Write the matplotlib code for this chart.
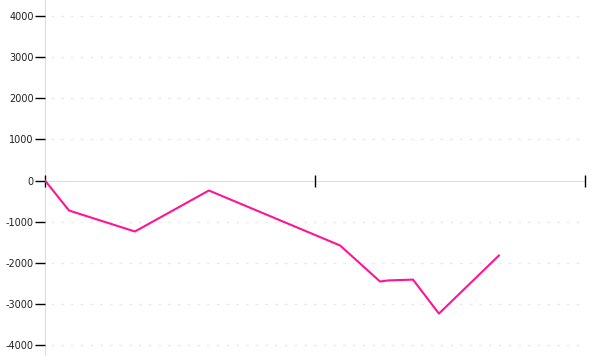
import matplotlib
matplotlib.use("Agg")
import matplotlib.pyplot as plt

# values
x_vals = [0.0, 0.089, 0.333, 0.607, 1.093, 1.241, 1.27, 1.363, 1.459, 1.681]
y_vals = [0, -730, -1240, -243, -1580, -2457, -2430, -2410, -3236, -1825]
y_ticks = [-4000, -3000, -2000, -1000, 0, 1000, 2000, 3000, 4000]
x_ticks = [0, 1, 2]

fig = plt.figure(figsize=(6, 3.6), dpi=100)
ax = fig.add_axes([45/600, 5/360, 540/600, 355/360])

for t in y_ticks:
    if t != 0:
        ax.axhline(t, xmin=6/540, color="#ebebeb", lw=1, ls=(0, (2, 5)), zorder=0)

ax.plot(x_vals, y_vals, color="#ff1493", lw=1.5, zorder=3)

ax.set_xlim(0, 2)
ax.set_ylim(-4243, 4389)

for s in ["top", "right"]:
    ax.spines[s].set_visible(False)
ax.spines["left"].set_color("#dddddd")
ax.spines["bottom"].set_position(("data", 0))
ax.spines["bottom"].set_color("#dddddd")
ax.spines["left"].set_zorder(0.5)
ax.spines["bottom"].set_zorder(0.5)
ax.xaxis.set_zorder(2)
ax.yaxis.set_zorder(2)

ax.set_yticks(y_ticks)
ax.set_yticklabels([str(t) for t in y_ticks])
ax.tick_params(axis="y", length=7, width=1, color="black", pad=1, labelsize=7,
               labelcolor="#222222")
ax.set_xticks(x_ticks)
ax.set_xticklabels([])
ax.tick_params(axis="x", direction="inout", length=9, width=1, color="black")

fig.savefig("out.png", dpi=100)
